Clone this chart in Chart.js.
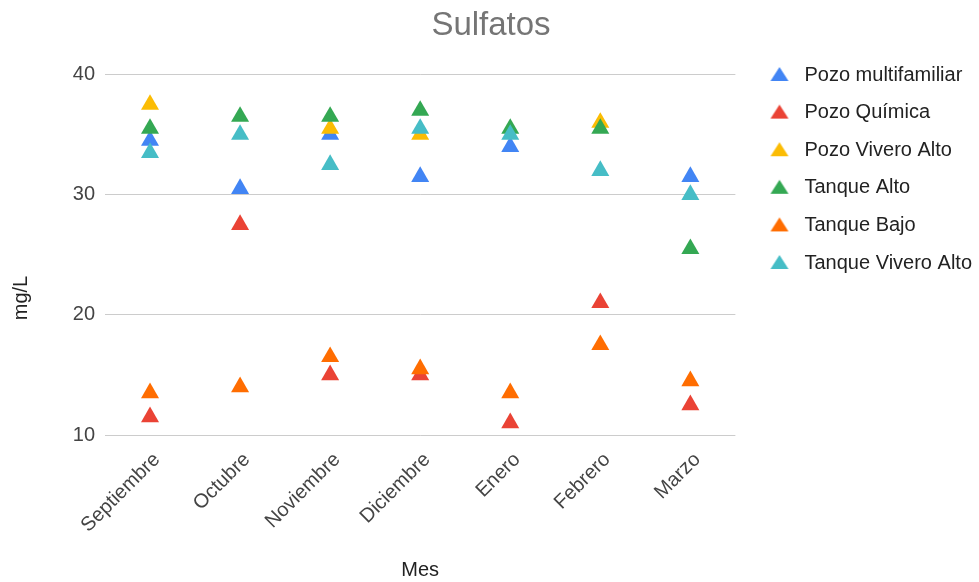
<!DOCTYPE html>
<html>
<head>
<meta charset="utf-8">
<title>Sulfatos</title>
<script src="https://cdn.jsdelivr.net/npm/chart.js@4.4.0/dist/chart.umd.min.js"></script>
<style>
  html, body { margin: 0; padding: 0; background: #fff; }
  #wrap { width: 979px; height: 582px; }
</style>
</head>
<body>
<div id="wrap"><canvas id="myChart" width="979" height="582"></canvas></div>
<script>
// months on the x axis
const months = ['Septiembre', 'Octubre', 'Noviembre', 'Diciembre', 'Enero', 'Febrero', 'Marzo'];

// sulfate readings per sampling point (mg/L), null = no reading
const pozoMultifamiliar = [34.5, 30.5, 35, 31.5, 34, null, 31.5];
const pozoQuimica = [11.5, 27.5, 15, 15, 11, 21, 12.5];
const pozoViveroAlto = [37.5, null, 35.5, 35, null, 36, null];
const tanqueAlto = [35.5, 36.5, 36.5, 37, 35.5, 35.5, 25.5];
const tanqueBajo = [13.5, 14, 16.5, 15.5, 13.5, 17.5, 14.5];
const tanqueViveroAlto = [33.5, 35, 32.5, 35.5, 35, 32, 30];

const seriesNames = ['Pozo multifamiliar', 'Pozo Química', 'Pozo Vivero Alto', 'Tanque Alto', 'Tanque Bajo', 'Tanque Vivero Alto'];
const seriesValues = [pozoMultifamiliar, pozoQuimica, pozoViveroAlto, tanqueAlto, tanqueBajo, tanqueViveroAlto];
const colorHex = ['#4285F4', '#EA4335', '#FBBC04', '#34A853', '#FF6D01', '#46BDC6'];

const yTicks = [10, 20, 30, 40];
const yTitle = 'mg/L';
const xTitle = 'Mes';

const FONT = '"Liberation Sans", Arial, sans-serif';
const FS = 20;

// small triangle images for the legend, shifted left inside the canvas
function legendMarker(color) {
  let c = document.createElement('canvas');
  c.width = 32;
  c.height = 20;
  let g = c.getContext('2d');
  g.fillStyle = color;
  g.beginPath();
  g.moveTo(11, 2);
  g.lineTo(20, 16);
  g.lineTo(2, 16);
  g.closePath();
  g.fill();
  return c;
}
const markers = colorHex.map(legendMarker);

// empty box between plot area and legend
const legendGap = {
  id: 'legendGap',
  beforeInit(chart) {
    Chart.layouts.addBox(chart, {
      position: 'right',
      weight: 500,
      fullSize: false,
      options: {},
      width: 0,
      height: 0,
      isHorizontal: () => false,
      update(maxWidth, maxHeight) {
        this.width = 21.5;
        this.height = maxHeight;
      },
      draw() {}
    });
  }
};

// vertical axis title, sits a bit below the middle of the plot
const yAxisTitle = {
  id: 'yAxisTitle',
  afterDraw(chart) {
    let ctx = chart.ctx;
    ctx.save();
    ctx.translate(21, 298);
    ctx.rotate(-Math.PI / 2);
    ctx.font = FS + 'px ' + FONT;
    ctx.fillStyle = '#222';
    ctx.textAlign = 'center';
    ctx.textBaseline = 'middle';
    ctx.fillText(yTitle, 0, 0);
    ctx.restore();
  }
};

let datasets = seriesNames.map((name, i) => ({
  label: name,
  data: seriesValues[i],
  showLine: false,
  pointStyle: 'triangle',
  pointRadius: 10.4,
  pointHoverRadius: 10.4,
  pointBorderWidth: 0,
  backgroundColor: colorHex[i],
  borderColor: colorHex[i],
  order: -i
}));

let ctx = document.getElementById('myChart').getContext('2d');
let myChart = new Chart(ctx, {
  type: 'line',
  data: {
    labels: months,
    datasets: datasets
  },
  plugins: [legendGap, yAxisTitle],
  options: {
    responsive: false,
    animation: false,
    devicePixelRatio: 1,
    layout: {
      padding: { top: 0, left: 0, right: -3, bottom: 0 }
    },
    plugins: {
      title: {
        display: true,
        text: 'Sulfatos',
        color: '#757575',
        font: { family: FONT, size: 33, weight: 'normal' },
        padding: { top: 6, bottom: 29 }
      },
      legend: {
        position: 'right',
        align: 'start',
        maxWidth: 320,
        title: {
          display: true,
          text: ' ',
          padding: { top: 33, bottom: 0 }
        },
        labels: {
          usePointStyle: true,
          padding: 17.6,
          color: '#222',
          font: { family: FONT, size: FS },
          sort: (a, b) => a.datasetIndex - b.datasetIndex,
          generateLabels: (chart) => {
            let items = Chart.defaults.plugins.legend.labels.generateLabels(chart);
            items.forEach(item => { item.pointStyle = markers[item.datasetIndex]; });
            return items;
          }
        }
      },
      tooltip: { enabled: false }
    },
    scales: {
      x: {
        offset: true,
        grid: { display: false, drawTicks: false },
        border: { display: false },
        ticks: {
          autoSkip: false,
          minRotation: 45,
          maxRotation: 45,
          padding: 13,
          labelOffset: 7,
          color: '#444',
          font: { family: FONT, size: FS }
        },
        title: {
          display: true,
          text: xTitle,
          color: '#222',
          font: { family: FONT, size: FS },
          padding: { top: 0, bottom: 0 }
        },
        afterFit: (scale) => { scale.height = 147; }
      },
      y: {
        min: yTicks[0],
        max: yTicks[yTicks.length - 1],
        afterBuildTicks: (scale) => { scale.ticks = yTicks.map(v => ({ value: v })); },
        grid: { color: '#cccccc', lineWidth: 1, drawTicks: false },
        border: { display: false },
        ticks: {
          padding: 10,
          color: '#444',
          font: { family: FONT, size: FS }
        },
        afterFit: (scale) => { scale.width = 105; }
      }
    }
  }
});
</script>
</body>
</html>
